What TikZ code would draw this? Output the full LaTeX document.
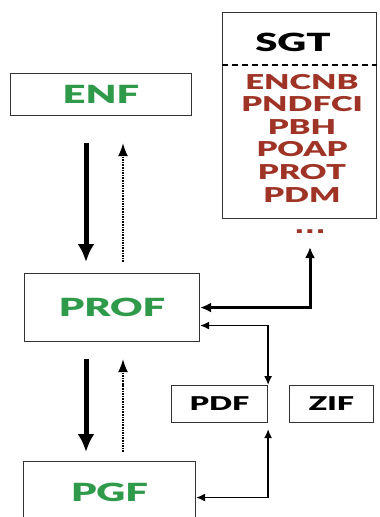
\documentclass[tikz,border=0pt]{standalone}
\usepackage{fontspec}
\newfontfamily\heavy[FakeStretch=1.6]{Lato Black}
\newfontfamily\dotfont[FakeStretch=1.4]{DejaVu Sans Bold}
\usetikzlibrary{arrows.meta}
\definecolor{leafgreen}{HTML}{2E9A4A}
\definecolor{brick}{HTML}{9E3326}
\begin{document}
\begin{tikzpicture}[x=1bp,y=-1bp,>=latex,
  box/.style={draw=black!80,line width=1.1bp,inner sep=0pt,anchor=north west},
  level/.style={font=\heavy\fontsize{25bp}{26bp}\selectfont,text=leafgreen},
  small/.style={font=\heavy\fontsize{19bp}{21bp}\selectfont},
  down/.style={-{Latex[length=18bp,width=17bp]},line width=5bp},
  up/.style={-{Latex[length=13bp,width=10bp]},densely dotted,line width=1.6bp},
  link/.style={{Latex[length=11bp,width=10bp]}-{Latex[length=11bp,width=10bp]},line width=3bp},
  thin/.style={{Latex[length=9bp,width=8bp]}-{Latex[length=9bp,width=8bp]},line width=1.5bp}]
\useasboundingbox (0,0) rectangle (379,517);
% levels
\node[box,level,minimum width=181bp,minimum height=42bp] (enf) at (10,73) {ENF};
\node[box,level,minimum width=175bp,minimum height=68bp] (prof) at (24,273) {PROF};
\node[box,level,minimum width=172bp,minimum height=62bp] (pgf) at (23,461) {PGF};
% SGT list
\node[box,minimum width=154bp,minimum height=206bp] (sgt) at (222,12) {};
\node[font=\heavy\fontsize{25bp}{27bp}\selectfont] (sgtname) at (293,42) {SGT};
\draw[dash pattern=on 6bp off 4bp,line width=1.1bp] (sgt.west |- 0,65) -- (sgt.east |- 0,65);
\node[font=\heavy\fontsize{20.5bp}{22.6bp}\selectfont,text=brick,align=center] (tasks) at (302,138)
  {ENCNB\\PNDFCI\\PBH\\POAP\\PROT\\PDM};
\node[font=\dotfont\fontsize{20bp}{22bp}\selectfont,text=brick] (more) at (310,232) {...};
\coordinate (sgtin) at (310,247);
% PDF / ZIF
\node[box,small,minimum width=96bp,minimum height=37bp] (pdf) at (171,385) {PDF};
\node[box,small,minimum width=84bp,minimum height=37bp] (zif) at (289,385) {ZIF};
% arrows between levels
\coordinate (d1) at (86,0);
\coordinate (u1) at (123,0);
\draw[down,shorten <=27bp,shorten >=11bp] (enf.south -| d1) -- (prof.north -| d1);
\draw[up,shorten <=11bp,shorten >=27bp] (prof.north -| u1) -- (enf.south -| u1);
\draw[down,shorten <=17bp,shorten >=9bp] (prof.south -| d1) -- (pgf.north -| d1);
\draw[up,shorten <=9bp,shorten >=17bp] (pgf.north -| u1) -- (prof.south -| u1);
% links
\draw[link] (prof.east) -| (sgtin);
\draw[thin] ([yshift=-18bp]prof.east) -| (pdf.north east);
\draw[thin,shorten >=6bp] ([yshift=-5bp]pgf.east) -| (pdf.south east);
\end{tikzpicture}
\end{document}
